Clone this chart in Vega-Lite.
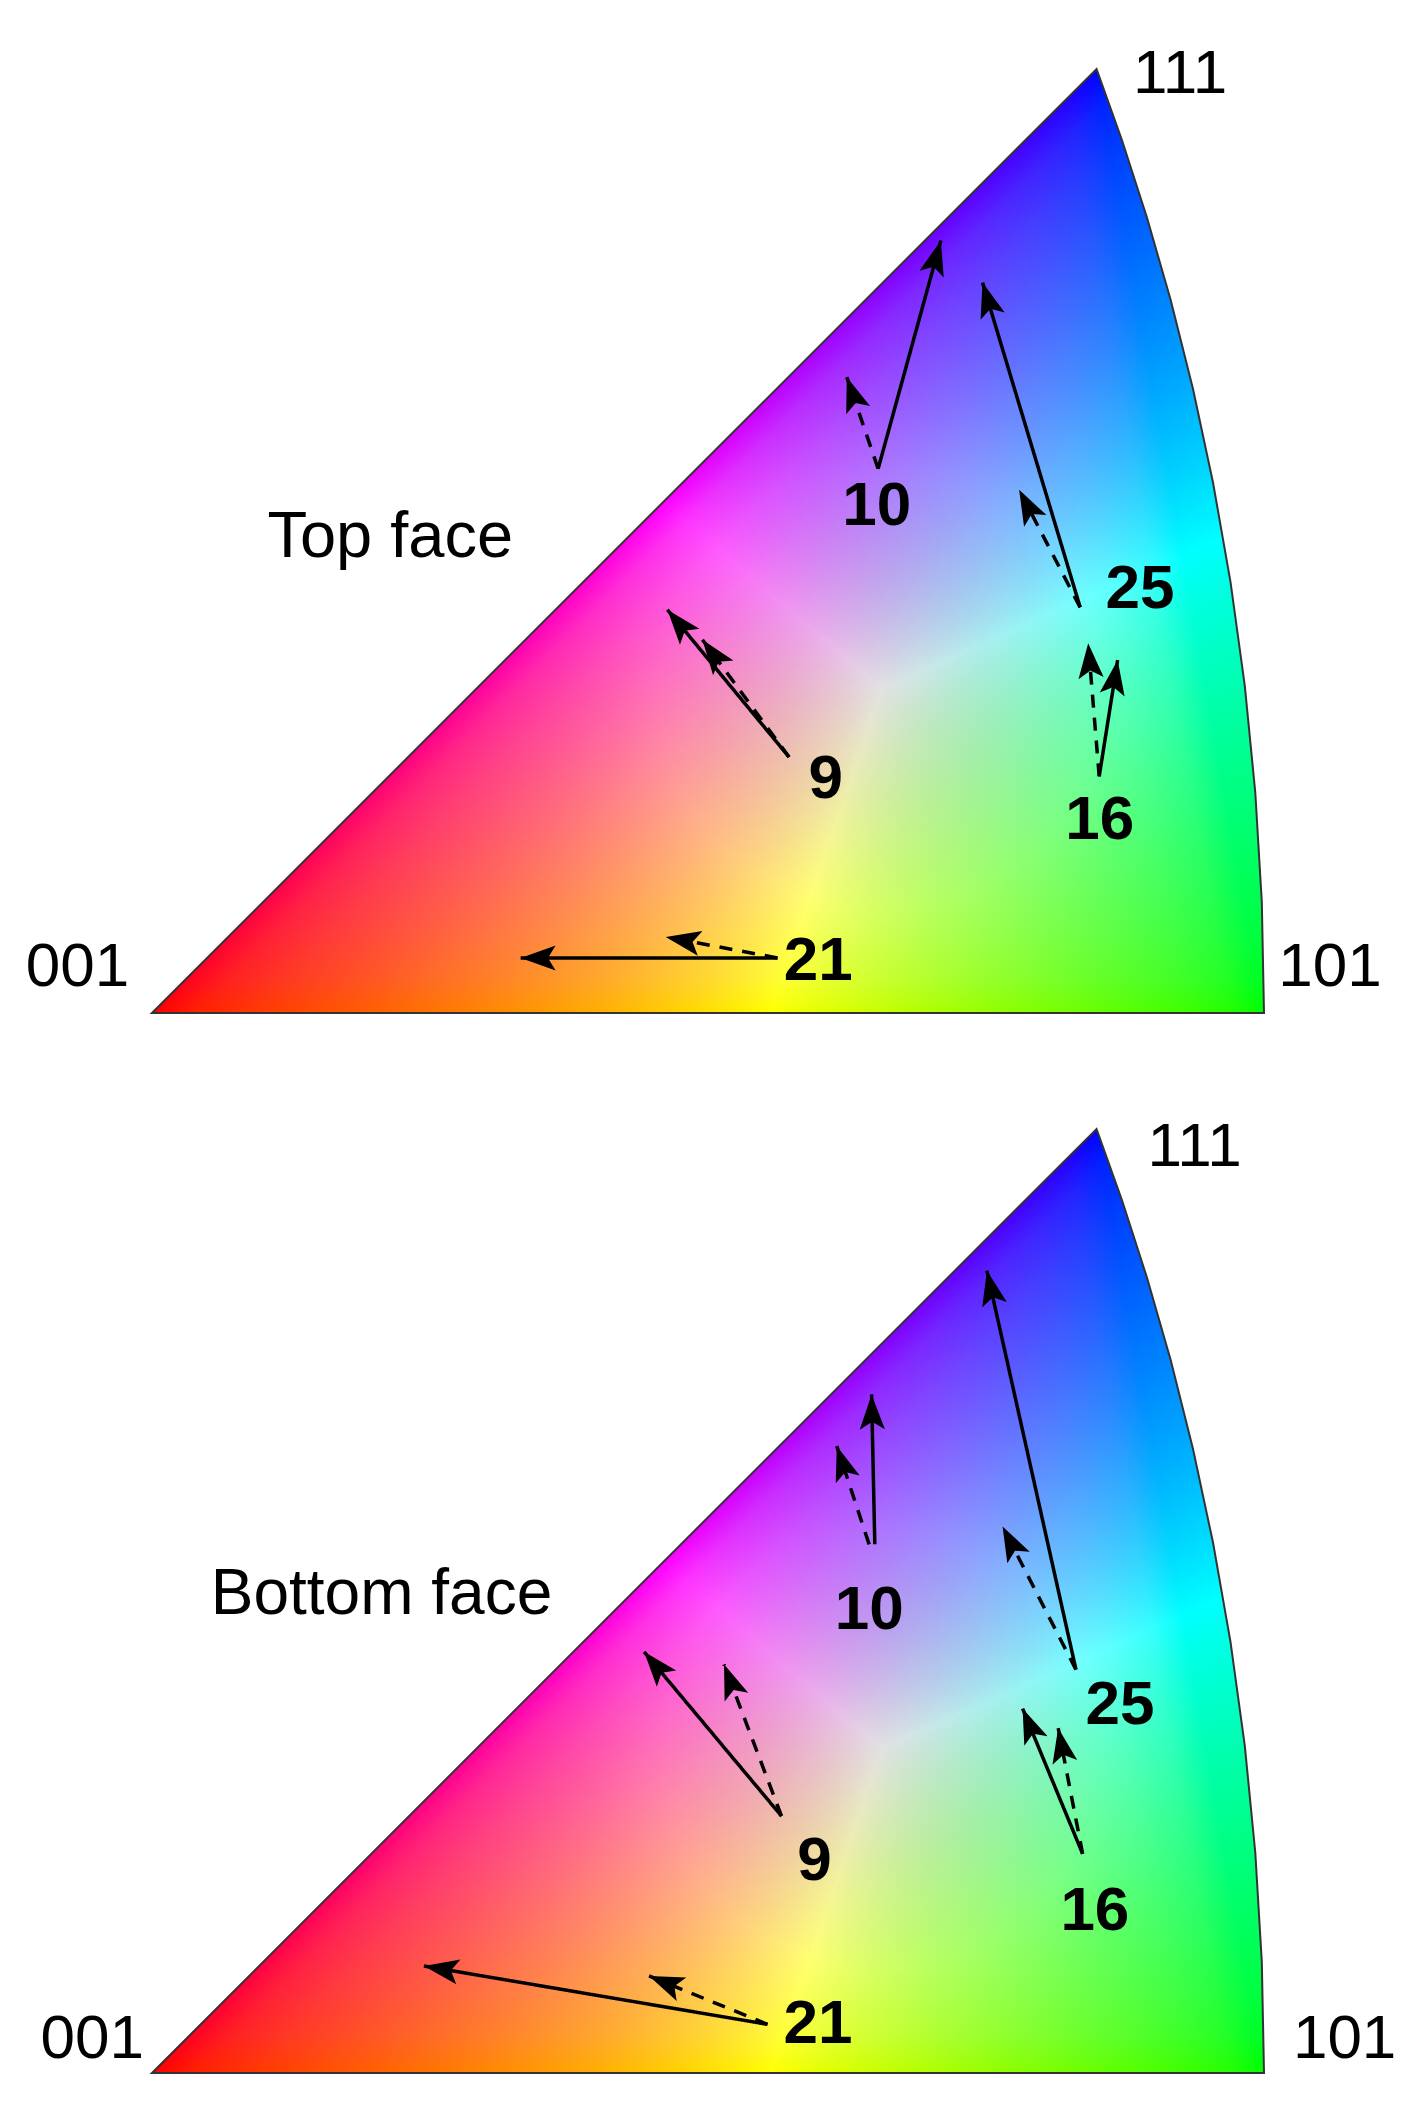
{
  "$schema": "https://vega.github.io/schema/vega-lite/v6.json",
  "autosize": {"type": "pad"},
  "padding": 0,
  "background": "white",
  "spacing": 116,
  "bounds": "flush",
  "config": {"view": {"stroke": null}, "axis": {"disable": true}},
  "datasets": {
    "tri": [
      {"x": 0, "y": 0}, {"x": 0.84942, "y": 0.84942}, {"x": 0.87238, "y": 0.78513}, {"x": 0.89473, "y": 0.7158},
      {"x": 0.91614, "y": 0.6413}, {"x": 0.93611, "y": 0.56168}, {"x": 0.95418, "y": 0.47709}, {"x": 0.96987, "y": 0.38795},
      {"x": 0.98269, "y": 0.29481}, {"x": 0.99217, "y": 0.19844}, {"x": 0.99803, "y": 0.0998}, {"x": 1, "y": 0}
    ],
    "regR": [
      {"x": 0, "y": 0, "y2": 0}, {"x": 0.4593, "y": 0.4593, "y2": 0}, {"x": 0.5556, "y": 0.3775, "y2": 0}, {"x": 0.6565, "y": 0.2918, "y2": 0.2918}
    ],
    "regG": [
      {"x": 0.5556, "y": 0, "y2": 0}, {"x": 0.6565, "y": 0.2918, "y2": 0}, {"x": 0.9629, "y": 0.428, "y2": 0},
      {"x": 0.96987, "y": 0.38795, "y2": 0}, {"x": 0.98269, "y": 0.29481, "y2": 0}, {"x": 0.99217, "y": 0.19844, "y2": 0},
      {"x": 0.99803, "y": 0.0998, "y2": 0}, {"x": 1, "y": 0, "y2": 0}
    ],
    "regB": [
      {"x": 0.4593, "y": 0.4593, "y2": 0.4593}, {"x": 0.6565, "y": 0.6565, "y2": 0.2918}, {"x": 0.84942, "y": 0.84942, "y2": 0.37752},
      {"x": 0.87238, "y": 0.78513, "y2": 0.3877}, {"x": 0.89473, "y": 0.7158, "y2": 0.3977}, {"x": 0.91614, "y": 0.6413, "y2": 0.4072},
      {"x": 0.93611, "y": 0.56168, "y2": 0.416}, {"x": 0.95418, "y": 0.47709, "y2": 0.4241}, {"x": 0.9629, "y": 0.428, "y2": 0.428}
    ],
    "seams": [
      {"seam": "m", "x0": 0.6565, "y0": 0.2918, "x1": 0.4593, "y1": 0.4593},
      {"seam": "y", "x0": 0.6565, "y0": 0.2918, "x1": 0.5556, "y1": 0},
      {"seam": "c", "x0": 0.6565, "y0": 0.2918, "x1": 0.9629, "y1": 0.428}
    ],
    "arrows": [
      {"face": "top", "grain": "10", "kind": "measured", "x0": 0.653, "y0": 0.4898, "x1": 0.7094, "y1": 0.6952},
      {"face": "top", "grain": "10", "kind": "simulated", "x0": 0.653, "y0": 0.4898, "x1": 0.6248, "y1": 0.5722},
      {"face": "top", "grain": "25", "kind": "measured", "x0": 0.8347, "y0": 0.365, "x1": 0.7469, "y1": 0.6572},
      {"face": "top", "grain": "25", "kind": "simulated", "x0": 0.8347, "y0": 0.365, "x1": 0.7798, "y1": 0.4708},
      {"face": "top", "grain": "16", "kind": "measured", "x0": 0.8518, "y0": 0.2129, "x1": 0.8684, "y1": 0.3177},
      {"face": "top", "grain": "16", "kind": "simulated", "x0": 0.8518, "y0": 0.2129, "x1": 0.8419, "y1": 0.3327},
      {"face": "top", "grain": "9", "kind": "measured", "x0": 0.5729, "y0": 0.2303, "x1": 0.4635, "y1": 0.3629},
      {"face": "top", "grain": "9", "kind": "simulated", "x0": 0.5729, "y0": 0.2303, "x1": 0.495, "y1": 0.3359},
      {"face": "top", "grain": "21", "kind": "measured", "x0": 0.5625, "y0": 0.0495, "x1": 0.3315, "y1": 0.0495},
      {"face": "top", "grain": "21", "kind": "simulated", "x0": 0.5625, "y0": 0.0495, "x1": 0.462, "y1": 0.0684},
      {"face": "bottom", "grain": "10", "kind": "measured", "x0": 0.65, "y0": 0.4757, "x1": 0.6471, "y1": 0.6106},
      {"face": "bottom", "grain": "10", "kind": "simulated", "x0": 0.6449, "y0": 0.4757, "x1": 0.6158, "y1": 0.5641},
      {"face": "bottom", "grain": "25", "kind": "measured", "x0": 0.8309, "y0": 0.363, "x1": 0.7508, "y1": 0.722},
      {"face": "bottom", "grain": "25", "kind": "simulated", "x0": 0.8309, "y0": 0.363, "x1": 0.7649, "y1": 0.4918},
      {"face": "bottom", "grain": "16", "kind": "measured", "x0": 0.8369, "y0": 0.1972, "x1": 0.7829, "y1": 0.3279},
      {"face": "bottom", "grain": "16", "kind": "simulated", "x0": 0.8369, "y0": 0.1972, "x1": 0.8149, "y1": 0.3104},
      {"face": "bottom", "grain": "9", "kind": "measured", "x0": 0.5661, "y0": 0.2312, "x1": 0.4425, "y1": 0.379},
      {"face": "bottom", "grain": "9", "kind": "simulated", "x0": 0.5661, "y0": 0.2312, "x1": 0.5144, "y1": 0.3677},
      {"face": "bottom", "grain": "21", "kind": "measured", "x0": 0.5535, "y0": 0.0438, "x1": 0.2445, "y1": 0.0963},
      {"face": "bottom", "grain": "21", "kind": "simulated", "x0": 0.5535, "y0": 0.0438, "x1": 0.447, "y1": 0.0873}
    ],
    "labels": [
      {"face": "top", "role": "grain", "text": "10", "x": 0.6518, "y": 0.4388},
      {"face": "top", "role": "grain", "text": "25", "x": 0.8884, "y": 0.3643},
      {"face": "top", "role": "grain", "text": "16", "x": 0.8522, "y": 0.1563},
      {"face": "top", "role": "grain", "text": "9", "x": 0.6059, "y": 0.1931},
      {"face": "top", "role": "grain", "text": "21", "x": 0.5992, "y": 0.0294},
      {"face": "top", "role": "corner", "text": "001", "x": -0.067, "y": 0.024},
      {"face": "top", "role": "corner", "text": "101", "x": 1.0594, "y": 0.024},
      {"face": "top", "role": "corner", "text": "111", "x": 0.9245, "y": 0.8274},
      {"face": "top", "role": "title", "text": "Top face", "x": 0.2143, "y": 0.41},
      {"face": "bottom", "role": "grain", "text": "10", "x": 0.6449, "y": 0.3995},
      {"face": "bottom", "role": "grain", "text": "25", "x": 0.8706, "y": 0.3143},
      {"face": "bottom", "role": "grain", "text": "16", "x": 0.8479, "y": 0.1289},
      {"face": "bottom", "role": "grain", "text": "9", "x": 0.5958, "y": 0.1736},
      {"face": "bottom", "role": "grain", "text": "21", "x": 0.599, "y": 0.0273},
      {"face": "bottom", "role": "corner", "text": "001", "x": -0.0538, "y": 0.0135},
      {"face": "bottom", "role": "corner", "text": "101", "x": 1.0725, "y": 0.0135},
      {"face": "bottom", "role": "corner", "text": "111", "x": 0.9375, "y": 0.8164},
      {"face": "bottom", "role": "title", "text": "Bottom face", "x": 0.2064, "y": 0.4133}
    ]
  },
  "vconcat": [
    {
      "width": 1112, "height": 944,
      "layer": [
        {"data": {"name": "tri"}, "mark": {"type": "area", "fill": {"gradient": "linear", "x1": 0, "y1": 1, "x2": 0.97782, "y2": 0.85274, "stops": [{"offset": 0, "color": "rgb(255,0,0)"}, {"offset": 0.2, "color": "rgb(223,0,0)"}, {"offset": 0.4, "color": "rgb(188,0,0)"}, {"offset": 0.55, "color": "rgb(158,0,0)"}, {"offset": 0.65, "color": "rgb(136,0,0)"}, {"offset": 0.75, "color": "rgb(111,0,0)"}, {"offset": 0.82, "color": "rgb(91,0,0)"}, {"offset": 0.88, "color": "rgb(71,0,0)"}, {"offset": 0.93, "color": "rgb(52,0,0)"}, {"offset": 0.97, "color": "rgb(31,0,0)"}, {"offset": 1, "color": "rgb(0,0,0)"}]}},
         "encoding": {"x": {"field": "x", "type": "quantitative", "scale": {"domain": [0, 1], "nice": false, "zero": false}}, "y": {"field": "y", "type": "quantitative", "stack": null, "scale": {"domain": [0, 0.84942], "nice": false, "zero": false}}, "y2": {"datum": 0}}},
        {"data": {"name": "tri"}, "mark": {"type": "area", "blend": "lighten", "fill": {"gradient": "linear", "x1": 0, "y1": 1, "x2": 0.58088, "y2": 1.49341, "stops": [{"offset": 0, "color": "rgb(0,0,0)"}, {"offset": 0.0375, "color": "rgb(0,31,0)"}, {"offset": 0.0875, "color": "rgb(0,52,0)"}, {"offset": 0.15, "color": "rgb(0,71,0)"}, {"offset": 0.225, "color": "rgb(0,91,0)"}, {"offset": 0.3125, "color": "rgb(0,111,0)"}, {"offset": 0.4375, "color": "rgb(0,136,0)"}, {"offset": 0.5625, "color": "rgb(0,158,0)"}, {"offset": 0.75, "color": "rgb(0,188,0)"}, {"offset": 1, "color": "rgb(0,223,0)"}]}},
         "encoding": {"x": {"field": "x", "type": "quantitative"}, "y": {"field": "y", "type": "quantitative", "stack": null}, "y2": {"datum": 0}}},
        {"data": {"name": "tri"}, "mark": {"type": "area", "blend": "lighten", "fill": {"gradient": "linear", "x1": 0, "y1": 1, "x2": 0, "y2": 0, "stops": [{"offset": 0, "color": "rgb(0,0,0)"}, {"offset": 0.0353, "color": "rgb(0,0,31)"}, {"offset": 0.0824, "color": "rgb(0,0,52)"}, {"offset": 0.1413, "color": "rgb(0,0,71)"}, {"offset": 0.2119, "color": "rgb(0,0,91)"}, {"offset": 0.2943, "color": "rgb(0,0,111)"}, {"offset": 0.412, "color": "rgb(0,0,136)"}, {"offset": 0.5298, "color": "rgb(0,0,158)"}, {"offset": 0.7064, "color": "rgb(0,0,188)"}, {"offset": 1, "color": "rgb(0,0,231)"}]}},
         "encoding": {"x": {"field": "x", "type": "quantitative"}, "y": {"field": "y", "type": "quantitative", "stack": null}, "y2": {"datum": 0}}},
        {"data": {"name": "regR"}, "mark": {"type": "area", "blend": "color-dodge", "fill": {"gradient": "linear", "x1": 0, "y1": 1, "x2": 1.5002, "y2": 0.8139, "stops": [{"offset": 0, "color": "rgb(0,0,0)"}, {"offset": 0.2, "color": "rgb(32,32,32)"}, {"offset": 0.4, "color": "rgb(67,67,67)"}, {"offset": 0.55, "color": "rgb(97,97,97)"}, {"offset": 0.65, "color": "rgb(119,119,119)"}, {"offset": 0.75, "color": "rgb(144,144,144)"}, {"offset": 0.82, "color": "rgb(164,164,164)"}, {"offset": 0.88, "color": "rgb(184,184,184)"}, {"offset": 0.93, "color": "rgb(203,203,203)"}, {"offset": 0.97, "color": "rgb(224,224,224)"}, {"offset": 1, "color": "rgb(255,255,255)"}]}},
         "encoding": {"x": {"field": "x", "type": "quantitative"}, "y": {"field": "y", "type": "quantitative", "stack": null}, "y2": {"field": "y2"}}},
        {"data": {"name": "regG"}, "mark": {"type": "area", "blend": "color-dodge", "fill": {"gradient": "linear", "x1": 0, "y1": -0.29813, "x2": 1.16742, "y2": 0.8262, "stops": [{"offset": 0, "color": "rgb(255,255,255)"}, {"offset": 0.0375, "color": "rgb(224,224,224)"}, {"offset": 0.0875, "color": "rgb(203,203,203)"}, {"offset": 0.15, "color": "rgb(184,184,184)"}, {"offset": 0.225, "color": "rgb(164,164,164)"}, {"offset": 0.3125, "color": "rgb(144,144,144)"}, {"offset": 0.4375, "color": "rgb(119,119,119)"}, {"offset": 0.5625, "color": "rgb(97,97,97)"}, {"offset": 0.75, "color": "rgb(67,67,67)"}, {"offset": 1, "color": "rgb(32,32,32)"}]}},
         "encoding": {"x": {"field": "x", "type": "quantitative"}, "y": {"field": "y", "type": "quantitative", "stack": null}, "y2": {"field": "y2"}}},
        {"data": {"name": "regB"}, "mark": {"type": "area", "blend": "color-dodge", "fill": {"gradient": "linear", "x1": 0, "y1": 1.5233, "x2": 0, "y2": -0.27004, "stops": [{"offset": 0, "color": "rgb(255,255,255)"}, {"offset": 0.03, "color": "rgb(224,224,224)"}, {"offset": 0.07, "color": "rgb(203,203,203)"}, {"offset": 0.12, "color": "rgb(184,184,184)"}, {"offset": 0.18, "color": "rgb(164,164,164)"}, {"offset": 0.25, "color": "rgb(144,144,144)"}, {"offset": 0.35, "color": "rgb(119,119,119)"}, {"offset": 0.45, "color": "rgb(97,97,97)"}, {"offset": 0.6, "color": "rgb(67,67,67)"}, {"offset": 0.8, "color": "rgb(32,32,32)"}, {"offset": 1, "color": "rgb(0,0,0)"}]}},
         "encoding": {"x": {"field": "x", "type": "quantitative"}, "y": {"field": "y", "type": "quantitative", "stack": null}, "y2": {"field": "y2"}}},
        {"data": {"name": "seams"}, "transform": [{"filter": "datum.seam === 'm'"}], "mark": {"type": "rule", "strokeWidth": 2, "stroke": {"gradient": "linear", "x1": 1, "y1": 1, "x2": 0, "y2": 0, "stops": [{"offset": 0, "color": "rgb(255,255,255)"}, {"offset": 0.25, "color": "rgb(255,198,255)"}, {"offset": 0.5, "color": "rgb(255,145,255)"}, {"offset": 0.75, "color": "rgb(255,90,255)"}, {"offset": 0.9, "color": "rgb(255,50,255)"}, {"offset": 1, "color": "rgb(255,0,255)"}]}},
         "encoding": {"x": {"field": "x0", "type": "quantitative"}, "y": {"field": "y0", "type": "quantitative"}, "x2": {"field": "x1"}, "y2": {"field": "y1"}}},
        {"data": {"name": "seams"}, "transform": [{"filter": "datum.seam === 'y'"}], "mark": {"type": "rule", "strokeWidth": 2, "stroke": {"gradient": "linear", "x1": 1, "y1": 0, "x2": 0, "y2": 1, "stops": [{"offset": 0, "color": "rgb(255,255,255)"}, {"offset": 0.25, "color": "rgb(255,255,198)"}, {"offset": 0.5, "color": "rgb(255,255,146)"}, {"offset": 0.75, "color": "rgb(255,255,91)"}, {"offset": 0.9, "color": "rgb(255,255,51)"}, {"offset": 1, "color": "rgb(255,255,0)"}]}},
         "encoding": {"x": {"field": "x0", "type": "quantitative"}, "y": {"field": "y0", "type": "quantitative"}, "x2": {"field": "x1"}, "y2": {"field": "y1"}}},
        {"data": {"name": "seams"}, "transform": [{"filter": "datum.seam === 'c'"}], "mark": {"type": "rule", "strokeWidth": 2, "stroke": {"gradient": "linear", "x1": 0, "y1": 1, "x2": 1, "y2": 0, "stops": [{"offset": 0, "color": "rgb(255,255,255)"}, {"offset": 0.25, "color": "rgb(195,255,255)"}, {"offset": 0.5, "color": "rgb(136,255,255)"}, {"offset": 0.7, "color": "rgb(84,255,255)"}, {"offset": 0.8, "color": "rgb(51,255,255)"}, {"offset": 0.8826, "color": "rgb(0,255,255)"}, {"offset": 1, "color": "rgb(0,255,255)"}]}},
         "encoding": {"x": {"field": "x0", "type": "quantitative"}, "y": {"field": "y0", "type": "quantitative"}, "x2": {"field": "x1"}, "y2": {"field": "y1"}}},
        {"data": {"name": "tri"}, "mark": {"type": "area", "blend": "multiply", "fill": {"gradient": "radial", "x1": 0.6565, "y1": 0.6328, "r1": 0, "x2": 0.6565, "y2": 0.6328, "r2": 0.2, "stops": [{"offset": 0, "color": "rgb(226,226,226)"}, {"offset": 0.5, "color": "rgb(238,238,238)"}, {"offset": 1, "color": "rgb(255,255,255)"}]}},
         "encoding": {"x": {"field": "x", "type": "quantitative"}, "y": {"field": "y", "type": "quantitative", "stack": null}, "y2": {"datum": 0}}},
        {"data": {"name": "tri"}, "mark": {"type": "area", "fillOpacity": 0, "stroke": "#333333", "strokeWidth": 2},
         "encoding": {"x": {"field": "x", "type": "quantitative"}, "y": {"field": "y", "type": "quantitative", "stack": null}, "y2": {"datum": 0}}},
        {"data": {"name": "arrows"}, "transform": [{"filter": "datum.face === 'top'"}],
         "mark": {"type": "rule", "color": "#000000", "strokeWidth": 3.5},
         "encoding": {"x": {"field": "x0", "type": "quantitative"}, "y": {"field": "y0", "type": "quantitative"}, "x2": {"field": "x1"}, "y2": {"field": "y1"},
           "strokeDash": {"field": "kind", "type": "nominal", "scale": {"domain": ["measured", "simulated"], "range": [[1, 0], [13, 10]]}, "legend": null}}},
        {"data": {"name": "arrows"}, "transform": [{"filter": "datum.face === 'top'"}, {"calculate": "atan2(datum.x1 - datum.x0, datum.y1 - datum.y0) * 180 / PI", "as": "ang"}],
         "mark": {"type": "point", "shape": "M0,0L-0.36,1L0,0.78L0.36,1Z", "filled": true, "opacity": 1, "color": "#000000", "size": 4900},
         "encoding": {"x": {"field": "x1", "type": "quantitative"}, "y": {"field": "y1", "type": "quantitative"}, "angle": {"field": "ang", "type": "quantitative", "scale": null}}},
        {"data": {"name": "labels"}, "transform": [{"filter": "datum.face === 'top' && datum.role === 'grain'"}],
         "mark": {"type": "text", "font": "Liberation Sans", "fontWeight": "bold", "fontSize": 62, "align": "center", "baseline": "alphabetic", "color": "#000000"},
         "encoding": {"x": {"field": "x", "type": "quantitative"}, "y": {"field": "y", "type": "quantitative"}, "text": {"field": "text"}}},
        {"data": {"name": "labels"}, "transform": [{"filter": "datum.face === 'top' && datum.role === 'corner'"}],
         "mark": {"type": "text", "font": "Liberation Sans", "fontSize": 62, "align": "center", "baseline": "alphabetic", "color": "#000000"},
         "encoding": {"x": {"field": "x", "type": "quantitative"}, "y": {"field": "y", "type": "quantitative"}, "text": {"field": "text"}}},
        {"data": {"name": "labels"}, "transform": [{"filter": "datum.face === 'top' && datum.role === 'title'"}],
         "mark": {"type": "text", "font": "Liberation Sans", "fontSize": 65, "align": "center", "baseline": "alphabetic", "color": "#000000"},
         "encoding": {"x": {"field": "x", "type": "quantitative"}, "y": {"field": "y", "type": "quantitative"}, "text": {"field": "text"}}},
        {"data": {"values": [{}]}, "mark": {"type": "point", "filled": true, "color": "#ffffff", "opacity": 1, "size": 1},
         "encoding": {"x": {"datum": -0.13579, "type": "quantitative"}, "y": {"datum": 0.91016, "type": "quantitative"}}}
      ]
    },
    {
      "width": 1112, "height": 944,
      "layer": [
        {"data": {"name": "tri"}, "mark": {"type": "area", "fill": {"gradient": "linear", "x1": 0, "y1": 1, "x2": 0.97782, "y2": 0.85274, "stops": [{"offset": 0, "color": "rgb(255,0,0)"}, {"offset": 0.2, "color": "rgb(223,0,0)"}, {"offset": 0.4, "color": "rgb(188,0,0)"}, {"offset": 0.55, "color": "rgb(158,0,0)"}, {"offset": 0.65, "color": "rgb(136,0,0)"}, {"offset": 0.75, "color": "rgb(111,0,0)"}, {"offset": 0.82, "color": "rgb(91,0,0)"}, {"offset": 0.88, "color": "rgb(71,0,0)"}, {"offset": 0.93, "color": "rgb(52,0,0)"}, {"offset": 0.97, "color": "rgb(31,0,0)"}, {"offset": 1, "color": "rgb(0,0,0)"}]}},
         "encoding": {"x": {"field": "x", "type": "quantitative", "scale": {"domain": [0, 1], "nice": false, "zero": false}}, "y": {"field": "y", "type": "quantitative", "stack": null, "scale": {"domain": [0, 0.84942], "nice": false, "zero": false}}, "y2": {"datum": 0}}},
        {"data": {"name": "tri"}, "mark": {"type": "area", "blend": "lighten", "fill": {"gradient": "linear", "x1": 0, "y1": 1, "x2": 0.58088, "y2": 1.49341, "stops": [{"offset": 0, "color": "rgb(0,0,0)"}, {"offset": 0.0375, "color": "rgb(0,31,0)"}, {"offset": 0.0875, "color": "rgb(0,52,0)"}, {"offset": 0.15, "color": "rgb(0,71,0)"}, {"offset": 0.225, "color": "rgb(0,91,0)"}, {"offset": 0.3125, "color": "rgb(0,111,0)"}, {"offset": 0.4375, "color": "rgb(0,136,0)"}, {"offset": 0.5625, "color": "rgb(0,158,0)"}, {"offset": 0.75, "color": "rgb(0,188,0)"}, {"offset": 1, "color": "rgb(0,223,0)"}]}},
         "encoding": {"x": {"field": "x", "type": "quantitative"}, "y": {"field": "y", "type": "quantitative", "stack": null}, "y2": {"datum": 0}}},
        {"data": {"name": "tri"}, "mark": {"type": "area", "blend": "lighten", "fill": {"gradient": "linear", "x1": 0, "y1": 1, "x2": 0, "y2": 0, "stops": [{"offset": 0, "color": "rgb(0,0,0)"}, {"offset": 0.0353, "color": "rgb(0,0,31)"}, {"offset": 0.0824, "color": "rgb(0,0,52)"}, {"offset": 0.1413, "color": "rgb(0,0,71)"}, {"offset": 0.2119, "color": "rgb(0,0,91)"}, {"offset": 0.2943, "color": "rgb(0,0,111)"}, {"offset": 0.412, "color": "rgb(0,0,136)"}, {"offset": 0.5298, "color": "rgb(0,0,158)"}, {"offset": 0.7064, "color": "rgb(0,0,188)"}, {"offset": 1, "color": "rgb(0,0,231)"}]}},
         "encoding": {"x": {"field": "x", "type": "quantitative"}, "y": {"field": "y", "type": "quantitative", "stack": null}, "y2": {"datum": 0}}},
        {"data": {"name": "regR"}, "mark": {"type": "area", "blend": "color-dodge", "fill": {"gradient": "linear", "x1": 0, "y1": 1, "x2": 1.5002, "y2": 0.8139, "stops": [{"offset": 0, "color": "rgb(0,0,0)"}, {"offset": 0.2, "color": "rgb(32,32,32)"}, {"offset": 0.4, "color": "rgb(67,67,67)"}, {"offset": 0.55, "color": "rgb(97,97,97)"}, {"offset": 0.65, "color": "rgb(119,119,119)"}, {"offset": 0.75, "color": "rgb(144,144,144)"}, {"offset": 0.82, "color": "rgb(164,164,164)"}, {"offset": 0.88, "color": "rgb(184,184,184)"}, {"offset": 0.93, "color": "rgb(203,203,203)"}, {"offset": 0.97, "color": "rgb(224,224,224)"}, {"offset": 1, "color": "rgb(255,255,255)"}]}},
         "encoding": {"x": {"field": "x", "type": "quantitative"}, "y": {"field": "y", "type": "quantitative", "stack": null}, "y2": {"field": "y2"}}},
        {"data": {"name": "regG"}, "mark": {"type": "area", "blend": "color-dodge", "fill": {"gradient": "linear", "x1": 0, "y1": -0.29813, "x2": 1.16742, "y2": 0.8262, "stops": [{"offset": 0, "color": "rgb(255,255,255)"}, {"offset": 0.0375, "color": "rgb(224,224,224)"}, {"offset": 0.0875, "color": "rgb(203,203,203)"}, {"offset": 0.15, "color": "rgb(184,184,184)"}, {"offset": 0.225, "color": "rgb(164,164,164)"}, {"offset": 0.3125, "color": "rgb(144,144,144)"}, {"offset": 0.4375, "color": "rgb(119,119,119)"}, {"offset": 0.5625, "color": "rgb(97,97,97)"}, {"offset": 0.75, "color": "rgb(67,67,67)"}, {"offset": 1, "color": "rgb(32,32,32)"}]}},
         "encoding": {"x": {"field": "x", "type": "quantitative"}, "y": {"field": "y", "type": "quantitative", "stack": null}, "y2": {"field": "y2"}}},
        {"data": {"name": "regB"}, "mark": {"type": "area", "blend": "color-dodge", "fill": {"gradient": "linear", "x1": 0, "y1": 1.5233, "x2": 0, "y2": -0.27004, "stops": [{"offset": 0, "color": "rgb(255,255,255)"}, {"offset": 0.03, "color": "rgb(224,224,224)"}, {"offset": 0.07, "color": "rgb(203,203,203)"}, {"offset": 0.12, "color": "rgb(184,184,184)"}, {"offset": 0.18, "color": "rgb(164,164,164)"}, {"offset": 0.25, "color": "rgb(144,144,144)"}, {"offset": 0.35, "color": "rgb(119,119,119)"}, {"offset": 0.45, "color": "rgb(97,97,97)"}, {"offset": 0.6, "color": "rgb(67,67,67)"}, {"offset": 0.8, "color": "rgb(32,32,32)"}, {"offset": 1, "color": "rgb(0,0,0)"}]}},
         "encoding": {"x": {"field": "x", "type": "quantitative"}, "y": {"field": "y", "type": "quantitative", "stack": null}, "y2": {"field": "y2"}}},
        {"data": {"name": "seams"}, "transform": [{"filter": "datum.seam === 'm'"}], "mark": {"type": "rule", "strokeWidth": 2, "stroke": {"gradient": "linear", "x1": 1, "y1": 1, "x2": 0, "y2": 0, "stops": [{"offset": 0, "color": "rgb(255,255,255)"}, {"offset": 0.25, "color": "rgb(255,198,255)"}, {"offset": 0.5, "color": "rgb(255,145,255)"}, {"offset": 0.75, "color": "rgb(255,90,255)"}, {"offset": 0.9, "color": "rgb(255,50,255)"}, {"offset": 1, "color": "rgb(255,0,255)"}]}},
         "encoding": {"x": {"field": "x0", "type": "quantitative"}, "y": {"field": "y0", "type": "quantitative"}, "x2": {"field": "x1"}, "y2": {"field": "y1"}}},
        {"data": {"name": "seams"}, "transform": [{"filter": "datum.seam === 'y'"}], "mark": {"type": "rule", "strokeWidth": 2, "stroke": {"gradient": "linear", "x1": 1, "y1": 0, "x2": 0, "y2": 1, "stops": [{"offset": 0, "color": "rgb(255,255,255)"}, {"offset": 0.25, "color": "rgb(255,255,198)"}, {"offset": 0.5, "color": "rgb(255,255,146)"}, {"offset": 0.75, "color": "rgb(255,255,91)"}, {"offset": 0.9, "color": "rgb(255,255,51)"}, {"offset": 1, "color": "rgb(255,255,0)"}]}},
         "encoding": {"x": {"field": "x0", "type": "quantitative"}, "y": {"field": "y0", "type": "quantitative"}, "x2": {"field": "x1"}, "y2": {"field": "y1"}}},
        {"data": {"name": "seams"}, "transform": [{"filter": "datum.seam === 'c'"}], "mark": {"type": "rule", "strokeWidth": 2, "stroke": {"gradient": "linear", "x1": 0, "y1": 1, "x2": 1, "y2": 0, "stops": [{"offset": 0, "color": "rgb(255,255,255)"}, {"offset": 0.25, "color": "rgb(195,255,255)"}, {"offset": 0.5, "color": "rgb(136,255,255)"}, {"offset": 0.7, "color": "rgb(84,255,255)"}, {"offset": 0.8, "color": "rgb(51,255,255)"}, {"offset": 0.8826, "color": "rgb(0,255,255)"}, {"offset": 1, "color": "rgb(0,255,255)"}]}},
         "encoding": {"x": {"field": "x0", "type": "quantitative"}, "y": {"field": "y0", "type": "quantitative"}, "x2": {"field": "x1"}, "y2": {"field": "y1"}}},
        {"data": {"name": "tri"}, "mark": {"type": "area", "blend": "multiply", "fill": {"gradient": "radial", "x1": 0.6565, "y1": 0.6328, "r1": 0, "x2": 0.6565, "y2": 0.6328, "r2": 0.2, "stops": [{"offset": 0, "color": "rgb(226,226,226)"}, {"offset": 0.5, "color": "rgb(238,238,238)"}, {"offset": 1, "color": "rgb(255,255,255)"}]}},
         "encoding": {"x": {"field": "x", "type": "quantitative"}, "y": {"field": "y", "type": "quantitative", "stack": null}, "y2": {"datum": 0}}},
        {"data": {"name": "tri"}, "mark": {"type": "area", "fillOpacity": 0, "stroke": "#333333", "strokeWidth": 2},
         "encoding": {"x": {"field": "x", "type": "quantitative"}, "y": {"field": "y", "type": "quantitative", "stack": null}, "y2": {"datum": 0}}},
        {"data": {"name": "arrows"}, "transform": [{"filter": "datum.face === 'bottom'"}],
         "mark": {"type": "rule", "color": "#000000", "strokeWidth": 3.5},
         "encoding": {"x": {"field": "x0", "type": "quantitative"}, "y": {"field": "y0", "type": "quantitative"}, "x2": {"field": "x1"}, "y2": {"field": "y1"},
           "strokeDash": {"field": "kind", "type": "nominal", "scale": {"domain": ["measured", "simulated"], "range": [[1, 0], [13, 10]]}, "legend": null}}},
        {"data": {"name": "arrows"}, "transform": [{"filter": "datum.face === 'bottom'"}, {"calculate": "atan2(datum.x1 - datum.x0, datum.y1 - datum.y0) * 180 / PI", "as": "ang"}],
         "mark": {"type": "point", "shape": "M0,0L-0.36,1L0,0.78L0.36,1Z", "filled": true, "opacity": 1, "color": "#000000", "size": 4900},
         "encoding": {"x": {"field": "x1", "type": "quantitative"}, "y": {"field": "y1", "type": "quantitative"}, "angle": {"field": "ang", "type": "quantitative", "scale": null}}},
        {"data": {"name": "labels"}, "transform": [{"filter": "datum.face === 'bottom' && datum.role === 'grain'"}],
         "mark": {"type": "text", "font": "Liberation Sans", "fontWeight": "bold", "fontSize": 62, "align": "center", "baseline": "alphabetic", "color": "#000000"},
         "encoding": {"x": {"field": "x", "type": "quantitative"}, "y": {"field": "y", "type": "quantitative"}, "text": {"field": "text"}}},
        {"data": {"name": "labels"}, "transform": [{"filter": "datum.face === 'bottom' && datum.role === 'corner'"}],
         "mark": {"type": "text", "font": "Liberation Sans", "fontSize": 62, "align": "center", "baseline": "alphabetic", "color": "#000000"},
         "encoding": {"x": {"field": "x", "type": "quantitative"}, "y": {"field": "y", "type": "quantitative"}, "text": {"field": "text"}}},
        {"data": {"name": "labels"}, "transform": [{"filter": "datum.face === 'bottom' && datum.role === 'title'"}],
         "mark": {"type": "text", "font": "Liberation Sans", "fontSize": 64, "align": "center", "baseline": "alphabetic", "color": "#000000"},
         "encoding": {"x": {"field": "x", "type": "quantitative"}, "y": {"field": "y", "type": "quantitative"}, "text": {"field": "text"}}},
        {"data": {"values": [{}]}, "mark": {"type": "point", "filled": true, "color": "#ffffff", "opacity": 1, "size": 1},
         "encoding": {"x": {"datum": 1.14568, "type": "quantitative"}, "y": {"datum": -0.04274, "type": "quantitative"}}}
      ]
    }
  ]
}
